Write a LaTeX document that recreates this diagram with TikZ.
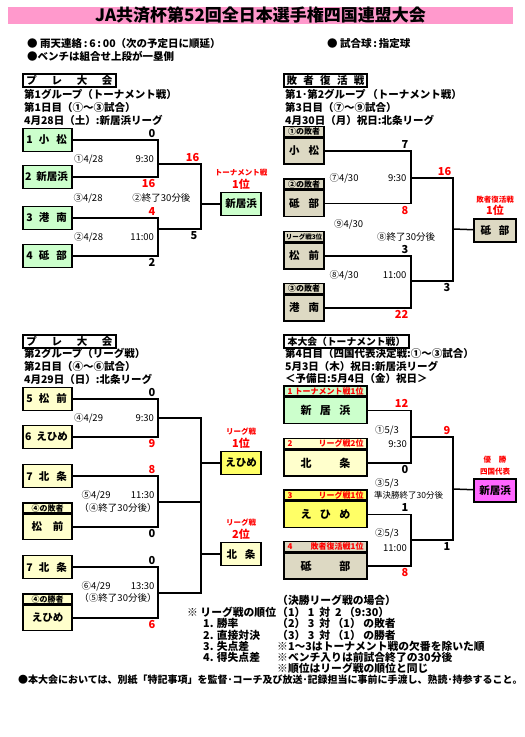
\documentclass[tikz,border=0pt]{standalone}
\usepackage{fontspec}
\setmainfont{Noto Sans CJK JP}
\usetikzlibrary{positioning}
\definecolor{titlepink}{HTML}{FF99CC}
\definecolor{boxgreen}{HTML}{CCFFCC}
\definecolor{boxbeige}{HTML}{DDD9C3}
\definecolor{boxcream}{HTML}{FFFFCC}
\definecolor{boxyellow}{HTML}{FFFF66}
\definecolor{boxpink}{HTML}{FF66FF}
\definecolor{scorered}{HTML}{FF0000}
\begin{document}
\begin{tikzpicture}[x=1pt, y=-1pt,
		line/.style={line width=1.5pt},
		titlebar/.style={rectangle, fill=titlepink, inner sep=0pt, minimum width=505pt, minimum height=17pt, font=\fontsize{17}{17}\selectfont\bfseries},
		headbox/.style={rectangle, draw, line width=1.6pt, inner sep=0pt, minimum height=13pt, font=\fontsize{10.5}{11}\selectfont\bfseries},
		txt/.style={inner sep=0pt, anchor=west, font=\fontsize{10.5}{11}\selectfont\bfseries},
		info/.style={inner sep=0pt, font=\fontsize{9.5}{11}\selectfont},
		team/.style={rectangle, draw, line width=1.8pt, inner sep=0pt, minimum width=49pt, minimum height=23pt, font=\fontsize{10.5}{12}\selectfont\bfseries},
		bigteam/.style={team, minimum width=83pt, minimum height=26pt, font=\fontsize{11}{12}\selectfont\bfseries},
		tag/.style={rectangle, draw, line width=1.2pt, inner sep=0pt, minimum height=10pt, font=\fontsize{8}{8}\selectfont\bfseries},
		win/.style={team, minimum width=40pt},
		score/.style={inner sep=0pt, font=\fontsize{11}{12}\selectfont\bfseries},
		redscore/.style={score, text=scorered},
		rank/.style={inner sep=0pt, text=scorered, font=\fontsize{7.5}{8}\selectfont\bfseries},
		rankbig/.style={rank, font=\fontsize{11}{12}\selectfont\bfseries},
		note/.style={inner sep=0pt, anchor=west, font=\fontsize{10.8}{11}\selectfont\bfseries}
		]
		\useasboundingbox (0,0) rectangle (525,737);

		\node[titlebar] (title) at (260.5,15.5) {JA共済杯第52回全日本選手権四国連盟大会};
		\node[txt] (rain) at (27,44) {●\ 雨天連絡\,:\,6\,:\,00（次の予定日に順延）};
		\node[txt] (bench) at (27,56) {●ベンチは組合せ上段が一塁側};
		\node[txt] (ball) at (327,44) {●\ 試合球\,:\,指定球};

		\node[headbox, minimum width=93pt] (pre1) at (69.5,80.5) {\makebox[86pt]{プ\hfill レ\hfill 大\hfill 会}};
		\node[txt] (g1a) at (24,94) {第1グループ（トーナメント戦）};
		\node[txt] (g1b) at (24,107) {第1日目（①～③試合）};
		\node[txt] (g1c) at (24,120) {4月28日（土）:新居浜リーグ};

		\node[team, fill=boxgreen] (komatsu1) at (47.5,140) {\makebox[42pt][l]{1\hspace{6pt}小\hspace{7pt}松}};
		\node[team, fill=boxgreen] (niihama1) at (47.5,177) {\makebox[45pt][l]{2\hspace{5pt}新居浜}};
		\node[team, fill=boxgreen] (konan1) at (47.5,218) {\makebox[42pt][l]{3\hspace{6pt}港\hspace{7pt}南}};
		\node[team, fill=boxgreen] (tobe1) at (47.5,256) {\makebox[42pt][l]{4\hspace{6pt}砥\hspace{7pt}部}};
		\node[win, fill=boxgreen] (niihamaW) at (241,204) {新居浜};
		\node[rankbig, above=2pt of niihamaW] (niihamaR) {1位};
		\node[rank, above=2pt of niihamaR] {トーナメント戦};

		\coordinate (m1) at (158,164);
		\coordinate (m2) at (158,229);
		\coordinate (f1) at (201,204);
		\draw[line] (komatsu1) -- (komatsu1 -| m1) node[score, above left=2pt and 2pt]{0}
			-- (niihama1 -| m1) node[redscore, below left=2pt and 2pt]{16} -- (niihama1);
		\draw[line] (konan1) -- (konan1 -| m2) node[redscore, above left=2pt and 2pt]{4}
			-- (tobe1 -| m2) node[score, below left=2pt and 2pt]{2} -- (tobe1);
		\draw[line] (m1) -- (m1 -| f1) node[redscore, above left=2pt and 1pt]{16}
			-- (m2 -| f1) node[score, below left=2pt and 3pt]{5} -- (m2);
		\draw[line] (f1) -- (niihamaW);
		\node[info] (g1m1) at (114,159) {\makebox[80pt]{①4/28\hfill 9:30}};
		\node[info] (g1m3) at (132,198) {\makebox[117pt]{③4/28\hfill ②終了30分後}};
		\node[info] (g1m2) at (114,237) {\makebox[80pt]{②4/28\hfill 11:00}};

		\node[headbox, minimum width=83pt] (fukkatsu) at (325.5,80.5) {\makebox[78pt]{敗\hfill 者\hfill 復\hfill 活\hfill 戦}};
		\node[txt] (g3a) at (285,94) {第1･第2グループ\,（トーナメント戦）};
		\node[txt] (g3b) at (285,107) {第3日目（⑦～⑨試合）};
		\node[txt] (g3c) at (285,120) {4月30日（月）祝日:北条リーグ};

		\node[team, fill=boxbeige, minimum width=40pt, minimum height=26pt] (komatsu3) at (304,151) {\makebox[30pt]{小\hfill 松}};
		\node[tag, fill=boxbeige, minimum width=40pt, above=0pt of komatsu3] (komatsu3t) {①の敗者};
		\node[team, fill=boxbeige, minimum width=40pt, minimum height=26pt] (tobe3) at (304,203.5) {\makebox[30pt]{砥\hfill 部}};
		\node[tag, fill=boxbeige, minimum width=40pt, above=0pt of tobe3] (tobe3t) {②の敗者};
		\node[team, fill=boxbeige, minimum width=40pt, minimum height=26pt] (matsumae3) at (304,256) {\makebox[30pt]{松\hfill 前}};
		\node[tag, fill=boxbeige, minimum width=40pt, above=0pt of matsumae3, font=\fontsize{6.5}{7}\selectfont\bfseries] (matsumae3t) {リーグ戦3位};
		\node[team, fill=boxbeige, minimum width=40pt, minimum height=26pt] (konan3) at (304,308) {\makebox[30pt]{港\hfill 南}};
		\node[tag, fill=boxbeige, minimum width=40pt, above=0pt of konan3] (konan3t) {③の敗者};
		\node[win, fill=boxbeige, minimum width=42pt] (tobeW) at (495,230.5) {砥\hspace{8pt}部};
		\node[rankbig, above=2pt of tobeW] (tobeR) {1位};
		\node[rank, above=2pt of tobeR] {敗者復活戦};

		\coordinate (m3) at (411,178);
		\coordinate (m4) at (411,281);
		\coordinate (f2) at (453,229);
		\draw[line] (komatsu3) -- (komatsu3 -| m3) node[score, above left=2pt and 2pt]{7}
			-- (tobe3 -| m3) node[redscore, below left=2pt and 2pt]{8} -- (tobe3);
		\draw[line] (matsumae3) -- (matsumae3 -| m4) node[score, above left=2pt and 2pt]{3}
			-- (konan3 -| m4) node[redscore, below left=2pt and 2pt]{22} -- (konan3);
		\draw[line] (m3) -- (m3 -| f2) node[redscore, above left=2pt and 1pt]{16}
			-- (m4 -| f2) node[score, below left=2pt and 2pt]{3} -- (m4);
		\draw[line] (f2) -- (tobeW);
		\node[info] (g3m7) at (368,178) {\makebox[77pt]{⑦4/30\hfill 9:30}};
		\node[info, anchor=west] (g3m9) at (334,224) {⑨4/30};
		\node[info, anchor=west] (g3m9t) at (377,237) {⑧終了30分後};
		\node[info] (g3m8) at (368,275) {\makebox[77pt]{⑧4/30\hfill 11:00}};

		\node[headbox, minimum width=93pt] (pre2) at (69.5,341.5) {\makebox[86pt]{プ\hfill レ\hfill 大\hfill 会}};
		\node[txt] (g2a) at (24,353) {第2グループ（リーグ戦）};
		\node[txt] (g2b) at (24,366) {第2日目（④～⑥試合）};
		\node[txt] (g2c) at (24,379) {4月29日（日）:北条リーグ};

		\node[team, fill=boxcream] (matsumae2) at (47.5,399) {\makebox[42pt][l]{5\hspace{6pt}松\hspace{7pt}前}};
		\node[team, fill=boxcream] (ehime2) at (47.5,437) {\makebox[45pt][l]{6\hspace{5pt}えひめ}};
		\node[team, fill=boxcream] (hojo2a) at (47.5,476) {\makebox[42pt][l]{7\hspace{6pt}北\hspace{7pt}条}};
		\node[team, fill=boxcream, minimum height=25pt] (matsumae2b) at (47.5,527) {\makebox[32pt]{松\hfill 前}};
		\node[tag, fill=boxcream, minimum width=49pt, above=0pt of matsumae2b] (matsumae2t) {④の敗者};
		\node[team, fill=boxcream] (hojo2b) at (47.5,567) {\makebox[42pt][l]{7\hspace{6pt}北\hspace{7pt}条}};
		\node[team, fill=boxcream, minimum height=25pt] (ehime2b) at (47.5,618) {えひめ};
		\node[tag, fill=boxcream, minimum width=49pt, above=0pt of ehime2b] (ehime2t) {④の勝者};
		\node[win, fill=boxyellow] (ehimeW) at (241,463) {えひめ};
		\node[rankbig, above=2pt of ehimeW] (ehimeR) {1位};
		\node[rank, above=2pt of ehimeR] {リーグ戦};
		\node[win, fill=boxcream] (hojoW) at (241,554) {北\hspace{8pt}条};
		\node[rankbig, above=2pt of hojoW] (hojoR) {2位};
		\node[rank, above=2pt of hojoR] {リーグ戦};

		\coordinate (m5) at (158,418);
		\coordinate (m6) at (158,502);
		\coordinate (m7) at (158,593);
		\coordinate (s1) at (201,418);
		\draw[line] (matsumae2) -- (matsumae2 -| m5) node[score, above left=2pt and 2pt]{0}
			-- (ehime2 -| m5) node[redscore, below left=2pt and 2pt]{9} -- (ehime2);
		\draw[line] (hojo2a) -- (hojo2a -| m6) node[redscore, above left=2pt and 2pt]{8}
			-- (matsumae2b -| m6) node[score, below left=2pt and 2pt]{0} -- (matsumae2b);
		\draw[line] (hojo2b) -- (hojo2b -| m7) node[score, above left=2pt and 2pt]{0}
			-- (ehime2b -| m7) node[redscore, below left=2pt and 2pt]{6} -- (ehime2b);
		\draw[line] (m5) -- (s1) -- (m7 -| s1) -- (m7);
		\draw[line] (m6) -- (m6 -| s1);
		\draw[line] (ehimeW -| s1) -- (ehimeW);
		\draw[line] (hojoW -| s1) -- (hojoW);
		\node[info] (g2m4) at (114,418) {\makebox[80pt]{④4/29\hfill 9:30}};
		\node[info] (g2m5) at (118,495) {\makebox[73pt]{⑤4/29\hfill 11:30}};
		\node[info] (g2m5t) at (118,508) {（④終了30分後）};
		\node[info] (g2m6) at (118,586) {\makebox[73pt]{⑥4/29\hfill 13:30}};
		\node[info] (g2m6t) at (118,598) {（⑤終了30分後）};

		\node[headbox, minimum width=125pt, font=\fontsize{9.8}{11}\selectfont\bfseries] (hontai) at (346.5,341.5) {本大会（トーナメント戦）};
		\node[txt] (g4a) at (285,353) {第4日目（四国代表決定戦:①～③試合）};
		\node[txt] (g4b) at (285,366) {5月3日（木）祝日:新居浜リーグ};
		\node[txt] (g4c) at (285,379) {＜予備日:5月4日（金）祝日＞};

		\node[bigteam, fill=boxgreen] (niihama4) at (325.5,410.5) {\makebox[50pt]{新\hfill 居\hfill 浜}};
		\node[tag, fill=boxgreen, text=scorered, minimum width=83pt, above=0pt of niihama4] (niihama4t) {\makebox[76pt]{1\hfill トーナメント戦1位}};
		\node[bigteam, fill=boxcream] (hojo4) at (325.5,463) {\makebox[50pt]{北\hfill 条}};
		\node[tag, fill=boxcream, text=scorered, minimum width=83pt, above=0pt of hojo4] (hojo4t) {\makebox[76pt]{2\hfill リーグ戦2位}};
		\node[bigteam, fill=boxyellow] (ehime4) at (325.5,514.5) {\makebox[50pt]{え\hfill ひ\hfill め}};
		\node[tag, fill=boxyellow, text=scorered, minimum width=83pt, above=0pt of ehime4] (ehime4t) {\makebox[76pt]{3\hfill リーグ戦1位}};
		\node[bigteam, fill=boxbeige] (tobe4) at (325.5,566) {\makebox[50pt]{砥\hfill 部}};
		\node[tag, fill=boxbeige, text=scorered, minimum width=83pt, above=0pt of tobe4] (tobe4t) {\makebox[76pt]{4\hfill 敗者復活戦1位}};
		\node[win, fill=boxpink, minimum width=42pt] (champW) at (495,490.5) {新居浜};
		\node[rank, above=3pt of champW] (champR) {四国代表};
		\node[rank, above=4pt of champR] {優\hspace{8pt}勝};

		\coordinate (m8) at (411,437);
		\coordinate (m9) at (411,540);
		\coordinate (f3) at (453,489);
		\draw[line] (niihama4) -- (niihama4 -| m8) node[redscore, above left=2pt and 2pt]{12}
			-- (hojo4 -| m8) node[score, below left=2pt and 2pt]{0} -- (hojo4);
		\draw[line] (ehime4) -- (ehime4 -| m9) node[score, above left=2pt and 2pt]{1}
			-- (tobe4 -| m9) node[redscore, below left=2pt and 2pt]{8} -- (tobe4);
		\draw[line] (m8) -- (m8 -| f3) node[redscore, above left=2pt and 2pt]{9}
			-- (m9 -| f3) node[score, below left=2pt and 2pt]{1} -- (m9);
		\draw[line] (f3) -- (champW);
		\node[info, anchor=west] (g4m1) at (375,430) {①5/3};
		\node[info, anchor=east] (g4m1t) at (407,444) {9:30};
		\node[info, anchor=west] (g4m3) at (375,483) {③5/3};
		\node[info, anchor=west, font=\fontsize{8.5}{9}\selectfont] (g4m3t) at (374,495) {準決勝終了30分後};
		\node[info, anchor=west] (g4m2) at (375,533) {②5/3};
		\node[info, anchor=east] (g4m2t) at (407,548) {11:00};

		\node[note] (final) at (277,600) {（決勝リーグ戦の場合）};
		\node[note] (order) at (187,612) {※ リーグ戦の順位};
		\node[note] (pair1) at (277,612) {（1）\ 1\ \ 対\ \ 2\ （9:30）};
		\node[note] (rule1) at (203,623.5) {1. 勝率};
		\node[note] (pair2) at (277,623.5) {（2）\ 3\ \ 対\ （1）\ の敗者};
		\node[note] (rule2) at (203,635) {2. 直接対決};
		\node[note] (pair3) at (277,635) {（3）\ 3\ \ 対\ （1）\ の勝者};
		\node[note] (rule3) at (203,646.5) {3. 失点差};
		\node[note] (remark1) at (277,646.5) {※1～3はトーナメント戦の欠番を除いた順};
		\node[note] (rule4) at (203,657.5) {4. 得失点差};
		\node[note] (remark2) at (277,657.5) {※ベンチ入りは前試合終了の30分後};
		\node[note] (remark3) at (277,668) {※順位はリーグ戦の順位と同じ};
		\node[note, font=\fontsize{10}{11}\selectfont\bfseries] (footer) at (18,679.5) {●本大会においては、別紙「特記事項」を監督･コーチ及び放送･記録担当に事前に手渡し、熟読･持参すること。};
	\end{tikzpicture}
\end{document}
